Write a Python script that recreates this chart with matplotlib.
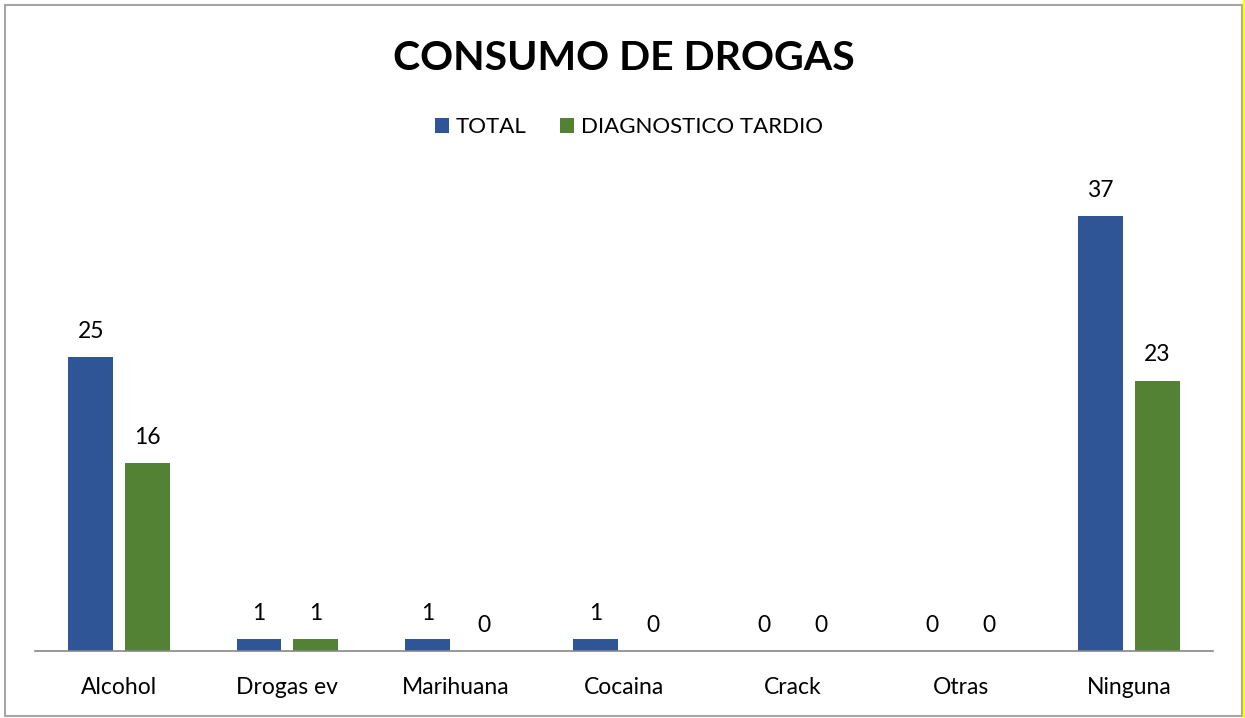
import matplotlib
matplotlib.use("Agg")
import matplotlib.pyplot as plt
import numpy as np
from matplotlib.patches import Rectangle

categories = ["Alcohol", "Drogas ev", "Marihuana", "Cocaina", "Crack", "Otras", "Ninguna"]
total = [25, 1, 1, 1, 0, 0, 37]
tardio = [16, 1, 0, 0, 0, 0, 23]

blue = "#2F5597"
green = "#548235"

plt.rcParams['font.family'] = ['Lato', 'DejaVu Sans']

W, H = 1245, 718
fig = plt.figure(figsize=(W / 100, H / 100), dpi=100)
ax = fig.add_axes([35 / W, 1 - 651 / H, 1178 / W, 470 / H])

x = np.arange(len(categories))
bw = 0.267
off = 0.169
b1 = ax.bar(x - off, total, bw, color=blue, label="TOTAL")
b2 = ax.bar(x + off, tardio, bw, color=green, label="DIAGNOSTICO TARDIO")

for bars, vals in ((b1, total), (b2, tardio)):
    for r, v in zip(bars, vals):
        ax.annotate(str(v), (r.get_x() + r.get_width() / 2, v),
                    xytext=(0, 11), textcoords="offset points",
                    ha="center", va="bottom", fontsize=16.5)

ax.set_xlim(-0.5, len(categories) - 0.5)
ax.set_ylim(0, 40)
ax.set_yticks([])
ax.set_xticks(x)
ax.set_xticklabels(categories, fontsize=16.5)
ax.tick_params(axis="x", length=0, pad=18.5)
for s in ("top", "left", "right"):
    ax.spines[s].set_visible(False)
ax.spines["bottom"].set_color("#868686")
ax.spines["bottom"].set_linewidth(1.2)

fig.text(624 / W, 1 - 58 / H, "CONSUMO DE DROGAS", ha="center", va="center",
         fontsize=29.5, fontweight="bold")

fig.legend(loc="center", bbox_to_anchor=(629 / W, 1 - 127 / H), ncol=2,
           frameon=False, fontsize=16, handlelength=0.65, handleheight=0.65,
           handletextpad=0.3, columnspacing=1.5)

# chart border and yellow edge
fig.patches.append(Rectangle((5 / W, 2 / H), 1237 / W, 711 / H, transform=fig.transFigure,
                             fill=False, edgecolor="#A6A6A6", linewidth=1.5))
fig.patches.append(Rectangle((1243 / W, 0), 2 / W, 1, transform=fig.transFigure,
                             color="#FFFF00"))

fig.savefig("out.png", dpi=100)
